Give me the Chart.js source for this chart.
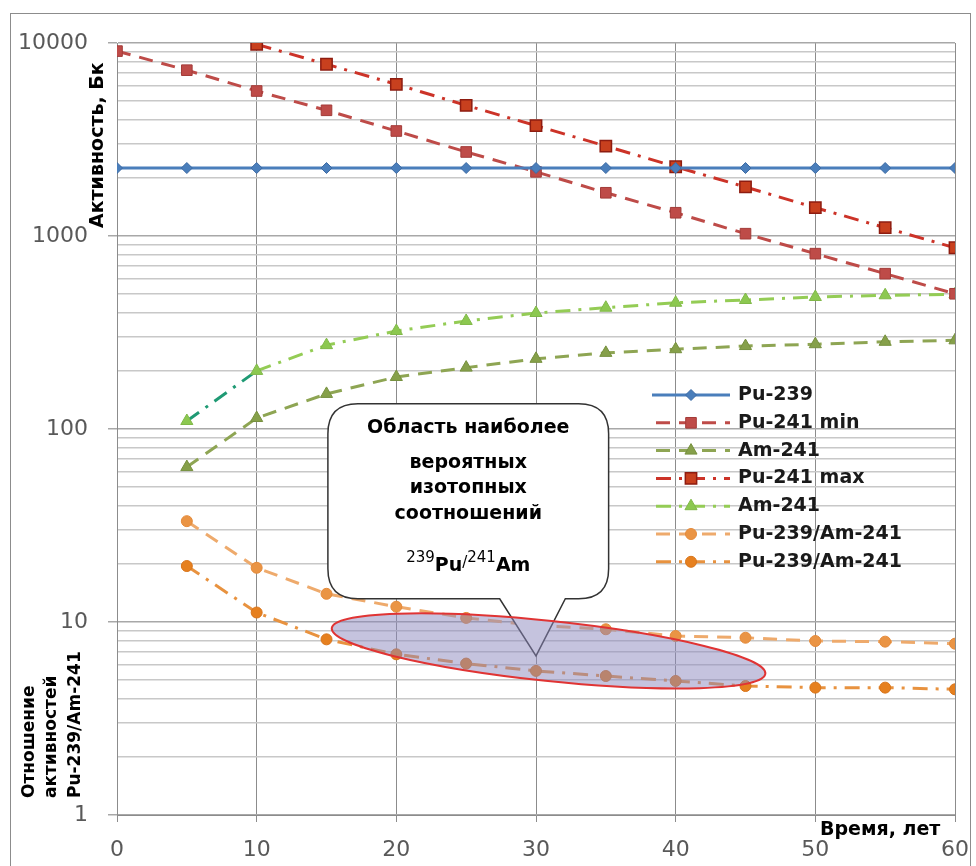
<!DOCTYPE html>
<html>
<head>
<meta charset="utf-8">
<script src="https://cdn.jsdelivr.net/npm/chart.js@4.4.1/dist/chart.umd.min.js"></script>
<style>
  body { margin: 0; background: #fff; }
  canvas { display: block; }
</style>
</head>
<body>
<canvas id="chart" width="976" height="866"></canvas>
<script>
// years on the x axis
const years = [0, 5, 10, 15, 20, 25, 30, 35, 40, 45, 50, 55, 60];

// activity, Bq
const pu239     = [2250, 2250, 2250, 2250, 2250, 2250, 2250, 2250, 2250, 2250, 2250, 2250, 2250];
const pu241Min  = [9080, 7230, 5640, 4480, 3500, 2725, 2150, 1675, 1320, 1028, 810, 638, 502];
const am241Low  = [null, 63.5, 114, 152, 186, 208, 231, 248, 259, 269, 275, 283, 288];
const pu241Max  = [null, null, 9840, 7760, 6110, 4750, 3730, 2925, 2285, 1795, 1402, 1104, 869];
const am241High = [null, 110, 200, 272, 322, 363, 399, 425, 451, 466, 483, 493, 499];

// ratio Pu-239/Am-241
const ratioHigh = [null, 33.3, 19.1, 14.0, 12.0, 10.5, 9.6, 9.17, 8.46, 8.29, 7.97, 7.91, 7.72];
const ratioLow  = [null, 19.5, 11.2, 8.13, 6.8, 6.09, 5.58, 5.25, 4.95, 4.66, 4.57, 4.57, 4.48];

const seriesLabels = ["Pu-239", "Pu-241 min", "Am-241", "Pu-241 max", "Am-241", "Pu-239/Am-241", "Pu-239/Am-241"];

// tick labels
const yMajorTicks = [1, 10, 100, 1000, 10000];
const xTickStep = 10;

const yTicks = [];
yMajorTicks.forEach((m, i) => {
  if (i === yMajorTicks.length - 1) { yTicks.push(m); return; }
  for (let k = 1; k < 10; k++) yTicks.push(m * k);
});

function pts(vals) {
  return years.map((x, i) => ({ x: x, y: vals[i] }));
}

const DASH = [14, 9];
const DASH_DOT = [15, 8, 3, 8];

const datasets = [
  {
    label: seriesLabels[0], data: pts(pu239),
    borderColor: "#4a7ebb", borderWidth: 3,
    pointStyle: "rectRot", pointRadius: 5.5,
    pointBackgroundColor: "#4a7ebb", pointBorderColor: "#3c6aa3", pointBorderWidth: 1
  },
  {
    label: seriesLabels[1], data: pts(pu241Min),
    borderColor: "#be4b48", borderWidth: 3, borderDash: DASH,
    pointStyle: "rect", pointRadius: 7.5,
    pointBackgroundColor: "#be4b48", pointBorderColor: "#a33b38", pointBorderWidth: 1
  },
  {
    label: seriesLabels[2], data: pts(am241Low),
    borderColor: "#8ea553", borderWidth: 3, borderDash: DASH,
    pointStyle: "triangle", pointRadius: 7,
    pointBackgroundColor: "#86a04a", pointBorderColor: "#76903e", pointBorderWidth: 1
  },
  {
    label: seriesLabels[3], data: pts(pu241Max),
    borderColor: "#cc3328", borderWidth: 3, borderDash: DASH_DOT,
    pointStyle: "rect", pointRadius: 8,
    pointBackgroundColor: "#c8401e", pointBorderColor: "#8e1c10", pointBorderWidth: 1.5
  },
  {
    label: seriesLabels[4], data: pts(am241High),
    borderColor: "#94cc55", borderWidth: 3, borderDash: DASH_DOT,
    pointStyle: "triangle", pointRadius: 7,
    pointBackgroundColor: "#8cc850", pointBorderColor: "#80b848", pointBorderWidth: 1,
    segment: {
      borderColor: ctx => ctx.p0DataIndex === 1 ? "#1f9a74" : undefined
    }
  },
  {
    label: seriesLabels[5], data: pts(ratioHigh),
    borderColor: "#eeaa6c", borderWidth: 3, borderDash: DASH,
    pointStyle: "circle", pointRadius: 5.5,
    pointBackgroundColor: "#ea9444", pointBorderColor: "#e48a3a", pointBorderWidth: 1
  },
  {
    label: seriesLabels[6], data: pts(ratioLow),
    borderColor: "#e8923f", borderWidth: 3, borderDash: DASH_DOT,
    pointStyle: "circle", pointRadius: 5.5,
    pointBackgroundColor: "#e6801f", pointBorderColor: "#d8741a", pointBorderWidth: 1
  }
];

function drawMarker(ctx, ds, x, y) {
  ctx.save();
  ctx.setLineDash([]);
  ctx.fillStyle = ds.pointBackgroundColor;
  ctx.strokeStyle = ds.pointBorderColor;
  ctx.lineWidth = ds.pointBorderWidth;
  if (Chart.helpers && Chart.helpers.drawPoint) {
    Chart.helpers.drawPoint(ctx, {
      pointStyle: ds.pointStyle, radius: ds.pointRadius, rotation: 0, borderWidth: ds.pointBorderWidth
    }, x, y);
  } else {
    ctx.beginPath();
    ctx.arc(x, y, ds.pointRadius, 0, Math.PI * 2);
    ctx.fill();
    ctx.stroke();
  }
  ctx.restore();
}

// callout + ellipse, then legend and axis titles
const overlays = {
  id: "overlays",
  afterDatasetsDraw(chart) {
    const ctx = chart.ctx;
    const xs = chart.scales.x, ys = chart.scales.y;

    // callout box
    const left = xs.getPixelForValue(15.1), right = xs.getPixelForValue(35.2);
    const top = ys.getPixelForValue(135), bottom = ys.getPixelForValue(13.2);
    const b1 = xs.getPixelForValue(27.4), b2 = xs.getPixelForValue(32.1);
    const tipX = xs.getPixelForValue(30), tipY = ys.getPixelForValue(6.67);
    const r = 30;
    ctx.save();
    ctx.beginPath();
    ctx.moveTo(left + r, top);
    ctx.lineTo(right - r, top);
    ctx.quadraticCurveTo(right, top, right, top + r);
    ctx.lineTo(right, bottom - r);
    ctx.quadraticCurveTo(right, bottom, right - r, bottom);
    ctx.lineTo(b2, bottom);
    ctx.lineTo(tipX, tipY);
    ctx.lineTo(b1, bottom);
    ctx.lineTo(left + r, bottom);
    ctx.quadraticCurveTo(left, bottom, left, bottom - r);
    ctx.lineTo(left, top + r);
    ctx.quadraticCurveTo(left, top, left + r, top);
    ctx.closePath();
    ctx.fillStyle = "#ffffff";
    ctx.fill();
    ctx.strokeStyle = "#333333";
    ctx.lineWidth = 1.5;
    ctx.stroke();

    const cx = (left + right) / 2;
    ctx.fillStyle = "#000";
    ctx.textAlign = "center";
    ctx.textBaseline = "middle";
    ctx.font = "bold 19px 'DejaVu Sans'";
    ctx.fillText("Область наиболее", cx, top + 24);
    ctx.fillText("вероятных", cx, top + 59);
    ctx.fillText("изотопных", cx, top + 84);
    ctx.fillText("соотношений", cx, top + 110);

    // 239Pu/241Am
    const parts = [
      { t: "239", f: "15px 'DejaVu Sans'", dy: -9 },
      { t: "Pu", f: "bold 19px 'DejaVu Sans'", dy: 0 },
      { t: "/", f: "15px 'DejaVu Sans'", dy: -4 },
      { t: "241", f: "15px 'DejaVu Sans'", dy: -9 },
      { t: "Am", f: "bold 19px 'DejaVu Sans'", dy: 0 }
    ];
    let w = 0;
    parts.forEach(p => { ctx.font = p.f; p.w = ctx.measureText(p.t).width; w += p.w; });
    let px = cx - w / 2;
    const fy = top + 167;
    ctx.textAlign = "left";
    ctx.textBaseline = "alphabetic";
    parts.forEach(p => { ctx.font = p.f; ctx.fillText(p.t, px, fy + p.dy); px += p.w; });
    ctx.restore();

    // ellipse
    const ex = xs.getPixelForValue(30.9), ey = ys.getPixelForValue(7.08);
    ctx.save();
    ctx.beginPath();
    ctx.ellipse(ex, ey, 218, 30, 6 * Math.PI / 180, 0, Math.PI * 2);
    ctx.fillStyle = "rgba(140, 135, 190, 0.5)";
    ctx.fill();
    ctx.strokeStyle = "#e03434";
    ctx.lineWidth = 2;
    ctx.stroke();
    ctx.restore();
  },
  afterDraw(chart) {
    const ctx = chart.ctx;
    ctx.save();

    // legend
    const lx1 = 652, lx2 = 730, ly = 395, step = 27.8;
    chart.data.datasets.forEach((ds, i) => {
      const y = ly + i * step;
      ctx.save();
      ctx.beginPath();
      ctx.setLineDash(ds.borderDash || []);
      ctx.lineDashOffset = ds.borderDash ? -4 : 0;
      ctx.strokeStyle = ds.borderColor;
      ctx.lineWidth = ds.borderWidth;
      ctx.moveTo(lx1, y);
      ctx.lineTo(lx2, y);
      ctx.stroke();
      ctx.restore();
      drawMarker(ctx, ds, (lx1 + lx2) / 2, y);
      ctx.fillStyle = "#1a1a1a";
      ctx.font = "bold 19px 'DejaVu Sans'";
      ctx.textAlign = "left";
      ctx.textBaseline = "middle";
      ctx.fillText(ds.label, 738, y);
    });

    // axis titles
    ctx.fillStyle = "#000";
    ctx.textBaseline = "middle";
    ctx.textAlign = "left";
    ctx.font = "bold 19px 'DejaVu Sans'";
    ctx.save();
    ctx.translate(98, 228);
    ctx.rotate(-Math.PI / 2);
    ctx.fillText("Активность, Бк", 0, 0);
    ctx.restore();

    ctx.font = "bold 17px 'DejaVu Sans'";
    const lines = [["Отношение", 30], ["активностей", 52], ["Pu-239/Am-241", 76]];
    lines.forEach(([t, x]) => {
      ctx.save();
      ctx.translate(x, 798);
      ctx.rotate(-Math.PI / 2);
      ctx.fillText(t, 0, 0);
      ctx.restore();
    });

    ctx.font = "bold 19px 'DejaVu Sans'";
    ctx.fillText("Время, лет", 820, 830);

    // outer frame
    ctx.strokeStyle = "#8c8c8c";
    ctx.lineWidth = 1;
    ctx.strokeRect(10.5, 13.5, 960, 880);
    ctx.restore();
  }
};

new Chart(document.getElementById("chart"), {
  type: "line",
  data: { datasets: datasets },
  plugins: [overlays],
  options: {
    responsive: false,
    animation: false,
    layout: { padding: { left: 0, top: 43, right: 21, bottom: 0 } },
    plugins: {
      legend: { display: false },
      tooltip: { enabled: false }
    },
    scales: {
      x: {
        type: "linear",
        min: 0,
        max: 60,
        afterFit: s => {
          s.height = 51;
          s.paddingLeft = 0;
          s.paddingRight = 0;
        },
        ticks: {
          stepSize: xTickStep,
          padding: 15,
          color: "#595959",
          font: { family: "'DejaVu Sans'", size: 22 }
        },
        grid: { color: "#8c8c8c", lineWidth: 1, tickLength: 7 },
        border: { color: "#8c8c8c" }
      },
      y: {
        type: "logarithmic",
        min: 1,
        max: 10000,
        afterFit: s => {
          s.width = 117;
          s.paddingTop = 0;
          s.paddingBottom = 0;
        },
        afterBuildTicks: s => {
          s.ticks = yTicks.map(v => ({ value: v, major: yMajorTicks.includes(v) }));
        },
        ticks: {
          autoSkip: false,
          padding: 20,
          color: "#595959",
          font: { family: "'DejaVu Sans'", size: 22 },
          callback: v => yMajorTicks.includes(v) ? String(v) : ""
        },
        grid: {
          tickLength: 9,
          lineWidth: 1.5,
          color: c => yMajorTicks.includes(c.tick.value) ? "#a8a8a8" : "#c8c8c8",
          tickColor: c => yMajorTicks.includes(c.tick.value) ? "#a8a8a8" : "rgba(0,0,0,0)"
        },
        border: { color: "#8c8c8c" }
      }
    }
  }
});
</script>
</body>
</html>
